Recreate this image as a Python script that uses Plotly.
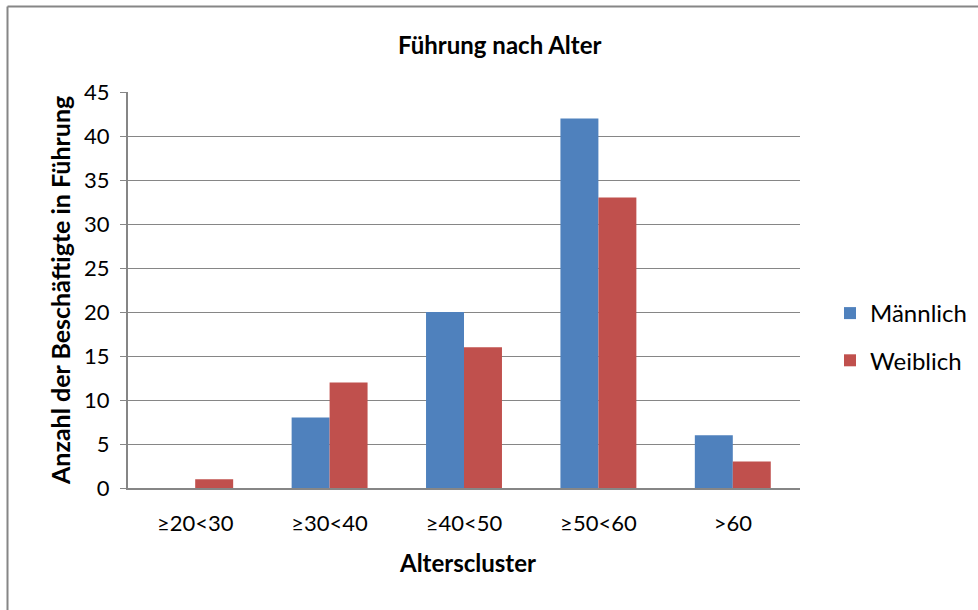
import plotly.graph_objects as go

# Age clusters and headcounts of managers per gender
categories = ["≥20<30", "≥30<40", "≥40<50", "≥50<60", ">60"]
maennlich = [0, 8, 20, 42, 6]
weiblich = [1, 12, 16, 33, 3]
y_ticks = [0, 5, 10, 15, 20, 25, 30, 35, 40, 45]

FONT = "Lato, Open Sans, sans-serif"
GRID = "#868686"

fig = go.Figure()
fig.add_trace(go.Bar(
    x=categories, y=maennlich, name="Männlich", legendgroup="m",
    marker=dict(color="#4F81BD", line=dict(width=0)),
))
fig.add_trace(go.Bar(
    x=categories, y=weiblich, name="Weiblich", legendgroup="w",
    marker=dict(color="#C0504D", line=dict(width=0)),
))

W, H = 978, 610
L, R, T, B = 128, 800, 92, 488
pw, ph = R - L, B - T


def px(x):
    return (x - L) / pw


def py(y):
    return (B - y) / ph


fig.update_layout(
    width=W, height=H,
    margin=dict(l=L, r=W - R, t=T, b=H - B, autoexpand=False),
    paper_bgcolor="white", plot_bgcolor="white",
    font=dict(family=FONT, size=22, color="#000000"),
    barmode="group", bargap=0.435, bargroupgap=0,
    showlegend=True,
    legend=dict(
        x=px(830), y=py(291), xanchor="left", yanchor="top",
        font=dict(size=24), tracegroupgap=13,
        itemwidth=30, bgcolor="rgba(0,0,0,0)",
    ),
    xaxis=dict(
        showgrid=False, showline=True, linecolor=GRID, linewidth=2,
        ticks="", ticklabelstandoff=15,
        tickfont=dict(size=22), fixedrange=True,
    ),
    yaxis=dict(
        range=[0, 45], tickvals=y_ticks, showgrid=True,
        gridcolor=GRID, gridwidth=1, zeroline=False,
        showline=True, linecolor=GRID, linewidth=2,
        ticks="outside", ticklen=6, tickcolor=GRID, tickwidth=1,
        ticklabelstandoff=6, tickfont=dict(size=22),
    ),
    annotations=[
        dict(text="<b>Führung nach Alter</b>", xref="paper", yref="paper",
             x=px(499), y=py(45), xanchor="center", yanchor="middle",
             showarrow=False, font=dict(size=24)),
        dict(text="<b>Anzahl der Beschäftigte in Führung</b>", xref="paper", yref="paper",
             x=px(60), y=py(291), xanchor="center", yanchor="middle",
             textangle=-90, showarrow=False, font=dict(size=25)),
        dict(text="<b>Alterscluster</b>", xref="paper", yref="paper",
             x=px(467), y=py(562), xanchor="center", yanchor="middle",
             showarrow=False, font=dict(size=24)),
    ],
    shapes=[
        dict(type="line", xref="paper", yref="paper",
             x0=px(7.5), x1=px(990), y0=py(6.5), y1=py(6.5),
             line=dict(color=GRID, width=2)),
        dict(type="line", xref="paper", yref="paper",
             x0=px(7.5), x1=px(7.5), y0=py(6.5), y1=py(620),
             line=dict(color=GRID, width=2)),
    ],
)

fig.write_html("out.html")
